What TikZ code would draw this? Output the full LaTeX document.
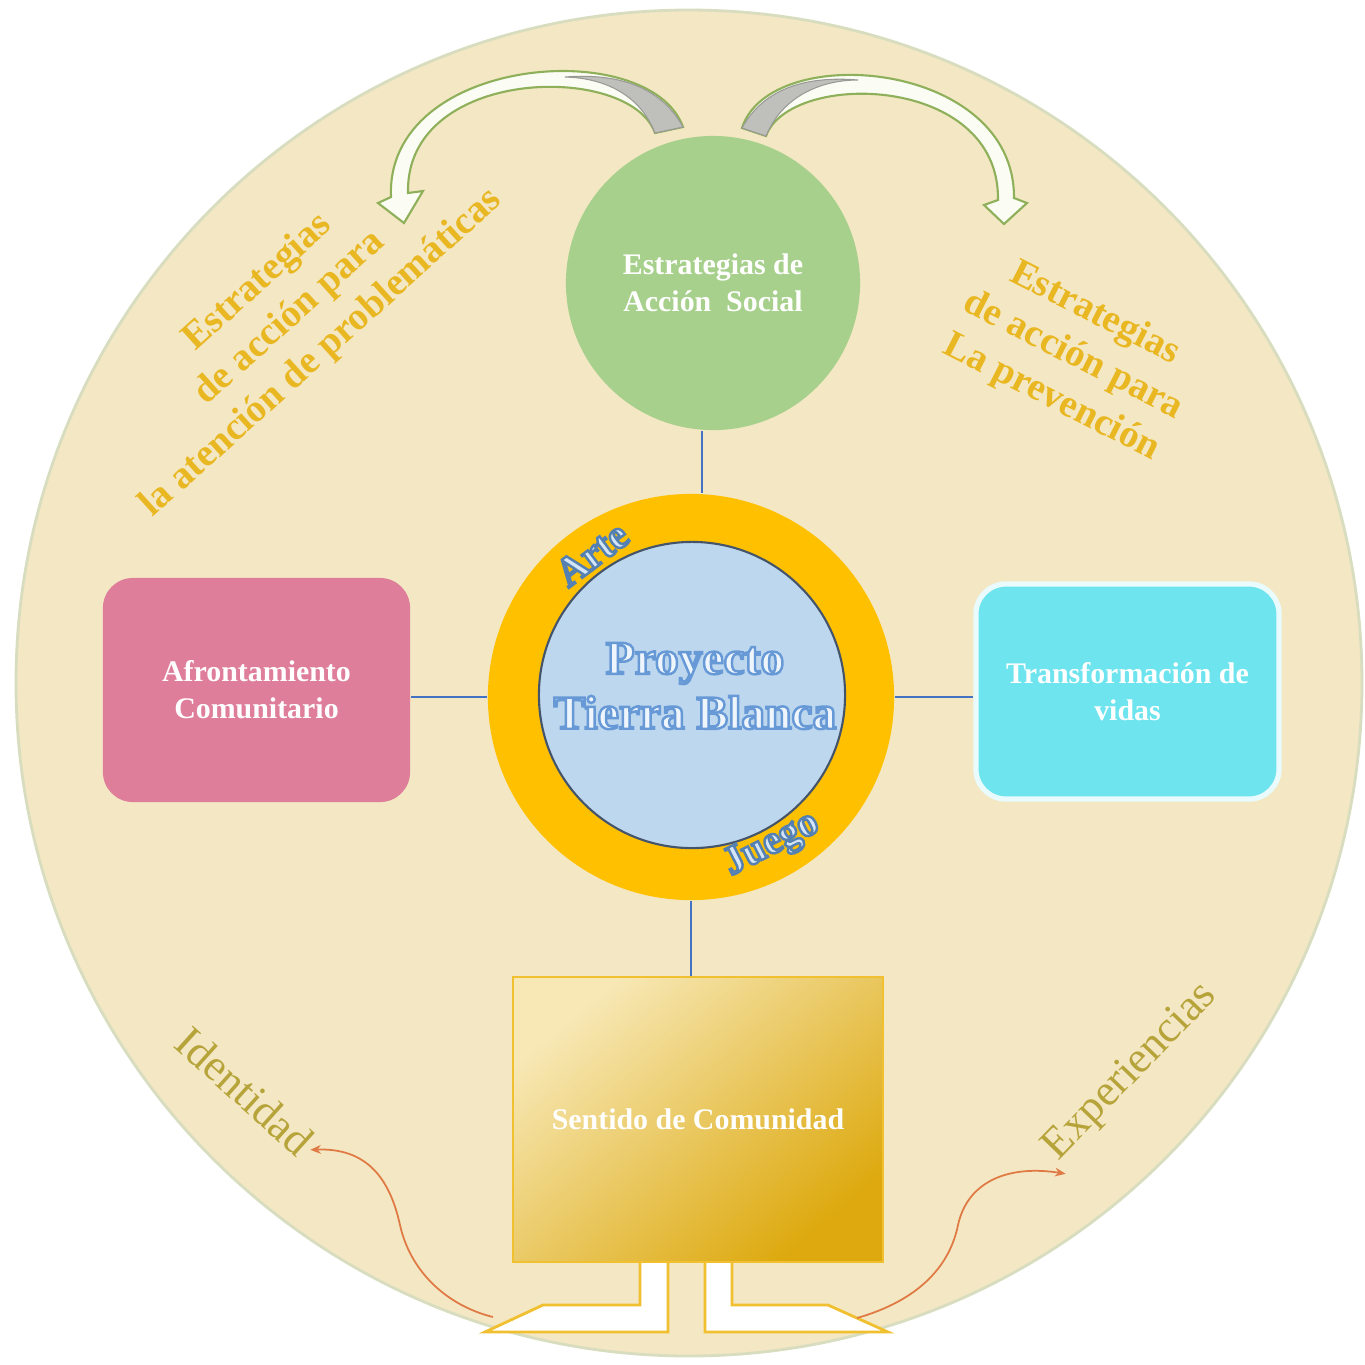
\documentclass[tikz,border=0pt]{standalone}
\usepackage{fontspec}
\setmainfont{Liberation Serif}
\usetikzlibrary{arrows.meta}
\definecolor{bgcircle}{HTML}{F4E7C3}
\definecolor{circedge}{HTML}{D9DDBF}
\definecolor{accgreen}{HTML}{A8D08D}
\definecolor{ringorange}{HTML}{FFC000}
\definecolor{innerblue}{HTML}{BDD7EE}
\definecolor{innerline}{HTML}{44546A}
\definecolor{afrpink}{HTML}{DE7E9B}
\definecolor{transcyan}{HTML}{6DE4EE}
\definecolor{connblue}{HTML}{4472C4}
\definecolor{goldlight}{HTML}{F7E8B6}
\definecolor{golddark}{HTML}{DDA90E}
\definecolor{goldedge}{HTML}{F0C030}
\definecolor{strattext}{HTML}{E8B722}
\definecolor{olivetext}{HTML}{B6A43A}
\definecolor{curveorange}{HTML}{E07A45}
\definecolor{projfill}{HTML}{EEF5FC}
\definecolor{ringfill}{HTML}{D3E5F6}
\definecolor{arrowgreen}{HTML}{8FB05A}
\definecolor{arrowfill}{HTML}{FBFDF4}
\definecolor{arrowgrey}{HTML}{BFC0BB}
% outlined text: fill from current colour, stroke given as rgb triple
\newcommand\outlinedtext[2]{\special{pdf:literal direct #1 RG 2 Tr 0.7 w}#2\special{pdf:literal direct 0 Tr}}
\begin{document}
\begin{tikzpicture}[x=0.01cm,y=-0.01cm,
  lbl/.style={text=white, font=\bfseries\fontsize{8.5}{10.5}\selectfont, align=center},
  conn/.style={draw=connblue, line width=0.6pt},
  strat/.style={text=strattext, font=\bfseries\fontsize{11}{13.5}\selectfont, align=center, inner sep=0pt},
  olive/.style={text=olivetext, font=\fontsize{12.6}{15}\selectfont, inner sep=1pt},
  ringlbl/.style={text=ringfill, font=\bfseries\fontsize{11.5}{13}\selectfont, inner sep=0pt},
  wcurve/.style={draw=curveorange, line width=0.5pt, -{Stealth[length=3pt,width=2.5pt]}},
  footshape/.style={fill=white, draw=goldedge, line width=0.8pt},
  bandarrow/.style={fill=arrowfill, draw=arrowgreen, line width=0.6pt},
  bandgrey/.style={fill=arrowgrey, draw=arrowgrey!80!black, line width=0.3pt}]
\useasboundingbox (0,0) rectangle (1365,1365);
\fill[white] (0,0) rectangle (1365,1365);
% big background circle
\draw[fill=bgcircle, draw=circedge, line width=0.8pt] (689,683) circle [radius=673];

% top curved arrows
\draw[bandarrow] (683,127) .. controls (650,35) and (385,55) .. (391,197)
  -- (378,203) -- (404,223) -- (423,191) -- (408,193)
  .. controls (405,66) and (630,62) .. (655,133) -- cycle;
\draw[bandgrey] (655,133) .. controls (640,95) and (605,78) .. (565,77)
  .. controls (615,73) and (660,85) .. (683,127) -- cycle;
\draw[bandarrow] (742,128) .. controls (770,40) and (1015,60) .. (1014,198)
  -- (1027,203) -- (1004,224) -- (984,205) -- (998,200)
  .. controls (1000,74) and (790,70) .. (766,136) -- cycle;
\draw[bandgrey] (766,136) .. controls (782,97) and (820,80) .. (858,80)
  .. controls (810,76) and (765,86) .. (742,128) -- cycle;

% main nodes
\node[circle, fill=accgreen, minimum size=2.94cm, lbl] (acc) at (713,283) {Estrategias de\\Acción\ \ Social};
\node[circle, fill=ringorange, minimum size=4.06cm] (ring) at (691,697) {};
\node[circle, fill=innerblue, draw=innerline, line width=0.6pt, minimum size=3.06cm] (core) at (692,695) {};
\node[text=projfill, font=\bfseries\fontsize{13.5}{15.6}\selectfont, align=center] (ptb) at (695,686)
  {\outlinedtext{0.40 0.60 0.84}{Proyecto}\\\outlinedtext{0.40 0.60 0.84}{Tierra Blanca}};
\node[ringlbl, rotate=37] (arte) at (592,554) {\outlinedtext{0.33 0.50 0.70}{Arte}};
\node[ringlbl, rotate=27] (juego) at (772,845) {\outlinedtext{0.33 0.50 0.70}{Juego}};
\node[rounded corners=0.3cm, fill=afrpink, minimum width=3.07cm, minimum height=2.24cm, lbl] (afr) at (256.5,690) {Afrontamiento\\Comunitario};
\node[rounded corners=0.3cm, fill=transcyan, draw=white!85!transcyan, line width=1.5pt, minimum width=3.03cm, minimum height=2.15cm, lbl] (trans) at (1127.5,691.5) {Transformación de\\vidas};

% feet under Sentido de Comunidad
\draw[footshape] (640,1262) -- (668,1247) -- (668,1332) -- (485,1332) -- (543,1305) -- (640,1305) -- cycle;
\draw[footshape] (705,1247) -- (732,1262) -- (732,1305) -- (828,1305) -- (888,1332) -- (705,1332) -- cycle;
\node[rectangle, minimum width=3.7cm, minimum height=2.85cm, draw=goldedge, line width=0.6pt,
  top color=goldlight, bottom color=golddark, shading angle=40, lbl] (sent) at (698,1119.5) {Sentido de Comunidad};

% connectors
\path (acc.south) -- (ring.north) coordinate[pos=.5] (m1);
\draw[conn] (m1 |- acc.south) -- (m1 |- ring.north);
\draw[conn] (afr.east |- ring.west) -- (ring.west);
\draw[conn] (ring.east) -- (trans.west |- ring.east);
\draw[conn] (ring.south) -- (ring.south |- sent.north);

% side texts
\node[strat, rotate=42] (izq) at (290,318) {Estrategias\\de acción para\\la atención de problemáticas};
\node[strat, rotate=-27] (der) at (1073,356) {Estrategias\\de acción para\\La prevención};
\node[olive, rotate=-42] (ident) at (245,1091) {Identidad};
\node[olive, rotate=46] (exper) at (1131,1072) {Experiencias};

% wavy connectors
\coordinate (lstart) at (493,1317);
\coordinate (rstart) at (857,1318);
\draw[wcurve] (lstart) .. controls (445,1305) and (410,1270) .. (400,1225)
  .. controls (388,1170) and (360,1148) .. (ident.east);
\draw[wcurve] (rstart) .. controls (920,1300) and (950,1265) .. (958,1225)
  .. controls (968,1180) and (1010,1165) .. (exper.south west);
\end{tikzpicture}
\end{document}
